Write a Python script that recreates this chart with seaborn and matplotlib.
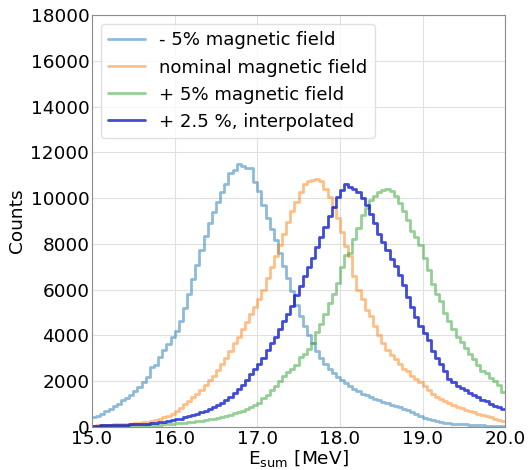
import numpy as np
import pandas as pd
import seaborn as sns
import matplotlib
matplotlib.use("Agg")
import matplotlib.pyplot as plt

# Energy binning: 100 bins of 0.05 MeV between 15 and 20 MeV
bin_edges = [round(15.0 + 0.05 * i, 3) for i in range(101)]
bin_centers = [round(15.025 + 0.05 * i, 4) for i in range(100)]

labels = ["- 5% magnetic field", "nominal magnetic field",
          "+ 5% magnetic field", "+ 2.5 %, interpolated"]

counts_minus5 = [
    450, 480, 560, 680, 790, 900, 1010, 1160, 1270, 1390,
    1560, 1740, 1960, 2190, 2600, 2720, 3060, 3350, 3640, 3950,
    4200, 4650, 5200, 5800, 6450, 7100, 7750, 8350, 8900, 9400,
    9850, 10250, 10600, 11090, 11230, 11480, 11400, 11310, 11300, 10720,
    10290, 9700, 9150, 8650, 8150, 7600, 7050, 6500, 5950, 5350,
    4850, 4400, 4000, 3650, 3300, 3000, 2750, 2550, 2350, 2200,
    2050, 1930, 1800, 1680, 1560, 1460, 1380, 1300, 1240, 1180,
    1110, 1050, 960, 920, 870, 800, 740, 670, 560, 460,
    380, 330, 290, 250, 220, 190, 170, 150, 140, 125,
    110, 100, 90, 80, 75, 65, 60, 55, 50, 45,
]

counts_nominal = [
    60, 70, 80, 90, 100, 110, 120, 130, 140, 150,
    160, 180, 200, 230, 260, 300, 360, 430, 500, 560,
    700, 850, 1000, 1150, 1300, 1450, 1620, 1850, 2050, 2250,
    2500, 2750, 3000, 3300, 3650, 3950, 4300, 4600, 4950, 5250,
    5600, 6000, 6500, 7000, 7450, 7950, 8450, 8950, 9450, 9850,
    10250, 10600, 10750, 10800, 10850, 10750, 10400, 10050, 9600, 9150,
    8500, 7900, 7450, 6600, 6000, 5600, 5100, 4850, 4400, 4000,
    3650, 3350, 3150, 2950, 2750, 2550, 2450, 2250, 2100, 1950,
    1800, 1600, 1450, 1320, 1220, 1130, 1030, 940, 880, 820,
    760, 700, 640, 580, 520, 470, 420, 370, 320, 270,
]

counts_plus5 = [
    20, 20, 25, 25, 30, 30, 35, 35, 40, 45,
    50, 55, 60, 70, 80, 90, 100, 110, 130, 150,
    160, 170, 190, 210, 230, 250, 280, 310, 340, 370,
    400, 440, 490, 540, 600, 660, 720, 790, 860, 940,
    1050, 1250, 1400, 1600, 1800, 2000, 2250, 2400, 2550, 2700,
    3050, 3200, 3400, 3650, 4150, 4500, 4950, 5400, 5800, 6300,
    7000, 7500, 7600, 8200, 8700, 9250, 9550, 9900, 10100, 10250,
    10350, 10400, 10300, 10100, 9800, 9450, 9050, 8550, 8300, 7950,
    7400, 6850, 6250, 5800, 5500, 5000, 4650, 4300, 3950, 3700,
    3450, 3200, 2950, 2700, 2450, 2350, 2150, 2000, 1850, 1550,
]

counts_plus2p5 = [
    60, 60, 70, 70, 80, 80, 90, 90, 100, 110,
    120, 130, 140, 150, 170, 190, 210, 230, 260, 290,
    330, 370, 420, 470, 520, 580, 640, 710, 790, 870,
    960, 1060, 1180, 1320, 1480, 1650, 1830, 2050, 2300, 2550,
    2750, 3000, 3350, 3650, 3950, 4300, 4650, 4950, 5300, 5750,
    6150, 6600, 7000, 7400, 7850, 8300, 8750, 9200, 9600, 10050,
    10350, 10600, 10500, 10400, 10250, 10000, 9700, 9300, 8900, 8450,
    8100, 7750, 7350, 7050, 6650, 6200, 5700, 5250, 4800, 4400,
    4100, 3800, 3300, 3000, 2750, 2450, 2100, 1950, 1800, 1700,
    1600, 1480, 1380, 1300, 1200, 1130, 1020, 930, 860, 780,
]

series = [counts_minus5, counts_nominal, counts_plus5, counts_plus2p5]
colors = ["#1f77b4", "#ff7f0e", "#2ca02c", "#0010c8"]
alphas = [0.5, 0.5, 0.5, 0.75]

y_ticks = [0, 2000, 4000, 6000, 8000, 10000, 12000, 14000, 16000, 18000]
x_ticks = [15.0, 16.0, 17.0, 18.0, 19.0, 20.0]

sns.set_style("whitegrid", {"axes.edgecolor": "0.55", "grid.color": "0.88",
                            "axes.linewidth": 1.0, "text.color": "black",
                            "axes.labelcolor": "black",
                            "xtick.color": "black", "ytick.color": "black"})
plt.rcParams["font.family"] = ["DejaVu Sans"]

fig = plt.figure(figsize=(5.29, 4.70), dpi=100)
ax = fig.add_axes([0.174, 0.0915, 0.781, 0.8765])

for counts, label, color, alpha in zip(series, labels, colors, alphas):
    df = pd.DataFrame({"E": bin_centers, "n": counts})
    sns.histplot(data=df, x="E", weights="n", bins=bin_edges,
                 element="step", fill=False, color=color, alpha=alpha,
                 linewidth=2.0, label=label, ax=ax)

ax.set_xlim(15.0, 20.0)
ax.set_ylim(0, 18000)
ax.set_xticks(x_ticks)
ax.set_xticklabels([f"{t:.1f}" for t in x_ticks])
ax.set_yticks(y_ticks)
ax.tick_params(axis="both", labelsize=13.3, pad=2, length=0)
ax.set_xlabel(r"E$_{\mathrm{sum}}$ [MeV]", fontsize=13.3, labelpad=0)
ax.set_ylabel("Counts", fontsize=13.3, labelpad=3)

leg = ax.legend(loc="upper left", fontsize=13.1, frameon=True,
                handlelength=2.0, borderaxespad=0.5)
leg.get_frame().set_edgecolor("0.85")

fig.savefig("out.png", dpi=100)
